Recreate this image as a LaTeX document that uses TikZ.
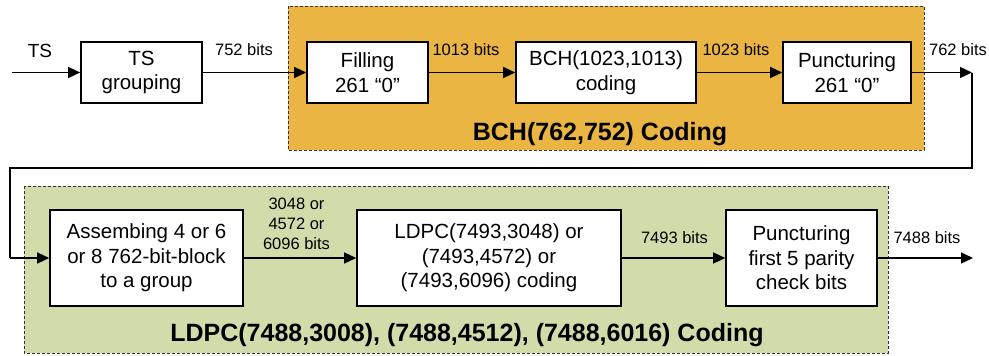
\documentclass[tikz,border=0pt]{standalone}
\usepackage{fontspec}
\setmainfont{Liberation Sans}
\usetikzlibrary{arrows.meta}
\definecolor{bchfill}{RGB}{235,181,67}
\definecolor{ldpcfill}{RGB}{209,220,170}
\tikzset{
  blk/.style={draw, fill=white, line width=1.6pt, inner sep=0pt, align=center,
    font=\fontsize{20.5}{24.5}\selectfont},
  lbl/.style={inner sep=0pt, align=center, font=\fontsize{16.5}{20}\selectfont},
  ttl/.style={inner sep=0pt, font=\bfseries\fontsize{25}{28}\selectfont},
  region/.style={draw=black!80, line width=0.8pt, dash pattern=on 3pt off 2pt},
  arr/.style={line width=1.3pt, -{Triangle[length=12pt,width=11pt]}},
  ln/.style={line width=1.3pt}
}
\begin{document}
\begin{tikzpicture}[x=1pt,y=-1pt]
\useasboundingbox (0,0) rectangle (989,356);
% regions
\path[region, fill=bchfill] (288,6) rectangle (924,150);
\path[region, fill=ldpcfill] (24,186) rectangle (888,353);
\node[ttl] (bchttl) at (600,134) {BCH(762,752) Coding};
\node[ttl] (ldpcttl) at (467,335) {LDPC(7488,3008), (7488,4512), (7488,6016) Coding};
% top row
\node[blk, minimum width=121pt, minimum height=61pt] (tsg) at (141.5,72.5) {TS\\grouping};
\node[blk, minimum width=121pt, minimum height=61pt] (fill) at (367.5,72.5) {Filling\\261 “0”};
\node[blk, minimum width=180pt, minimum height=61pt] (bch) at (606,72.5) {BCH(1023,1013)\\coding};
\node[blk, minimum width=128pt, minimum height=61pt] (punc) at (847,72.5) {Puncturing\\261 “0”};
% bottom row
\node[blk, minimum width=193pt, minimum height=96pt] (asm) at (146.5,258) {Assembing 4 or 6\\or 8 762-bit-block\\to a group};
\node[blk, minimum width=264pt, minimum height=96pt] (ldpc) at (489,258) {LDPC(7493,3048) or\\(7493,4572) or\\(7493,6096) coding};
\node[blk, minimum width=151pt, minimum height=96pt] (punc2) at (801.5,258) {Puncturing\\first 5 parity\\check bits};
% coordinates
\coordinate (tsin) at (12,72.5);
\coordinate (turn1) at (972,72.5);
\coordinate (turn2) at (972,168);
\coordinate (turn3) at (10,168);
\coordinate (out) at (973,258);
% labels
\node[lbl] (tslbl) at (40,51) {\fontsize{19}{22}\selectfont TS};
\node[lbl] (l752) at (244,50) {752 bits};
\node[lbl] (l1013) at (466,50) {1013 bits};
\node[lbl] (l1023) at (736,50) {1023 bits};
\node[lbl] (l762) at (958,50) {762 bits};
\node[lbl] (l3048) at (296.5,224) {3048 or\\4572 or\\6096 bits};
\node[lbl] (l7493) at (674.5,238) {7493 bits};
\node[lbl] (l7488) at (927,238) {7488 bits};
% connectors
\draw[arr] (tsin) -- (tsg.west);
\draw[arr] (tsg.east) -- (fill.west);
\draw[arr] (fill.east) -- (bch.west);
\draw[arr] (bch.east) -- (punc.west);
\draw[arr] (punc.east) -- (turn1);
\draw[ln] (turn1) -- (turn2) -- (turn3) -- (turn3 |- asm.west);
\draw[arr] (turn3 |- asm.west) -- (asm.west);
\draw[arr] (asm.east) -- (ldpc.west);
\draw[arr] (ldpc.east) -- (punc2.west);
\draw[arr] (punc2.east) -- (out);
\end{tikzpicture}
\end{document}
